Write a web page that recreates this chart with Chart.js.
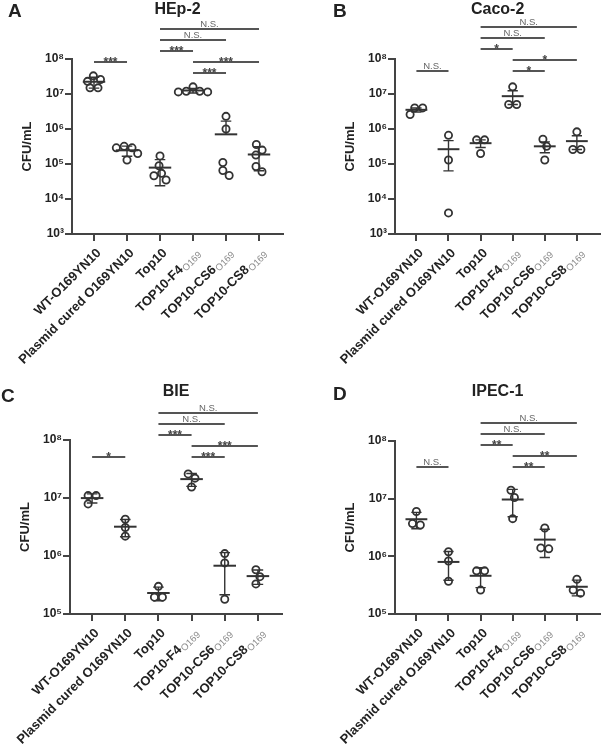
<!DOCTYPE html>
<html><head><meta charset="utf-8">
<script src="https://cdn.jsdelivr.net/npm/chart.js@4"></script>
<style>
html,body{margin:0;padding:0;background:#fff;}
#wrap{position:relative;width:606px;height:749px;overflow:hidden;background:#fff;}
.p{position:absolute;}
canvas{display:block;}
</style></head><body>
<div id="wrap">
<div class="p" style="left:0;top:0"><canvas id="cA" width="303" height="380"></canvas></div>
<div class="p" style="left:303px;top:0"><canvas id="cB" width="303" height="380"></canvas></div>
<div class="p" style="left:0;top:380px"><canvas id="cC" width="303" height="369"></canvas></div>
<div class="p" style="left:303px;top:380px"><canvas id="cD" width="303" height="369"></canvas></div>
</div>
<script>
// ---------- DATA ----------
const categories = ['WT-O169YN10', 'Plasmid cured O169YN10', 'Top10', 'TOP10-F4', 'TOP10-CS6', 'TOP10-CS8'];
const categorySubs = ['', '', '', 'O169', 'O169', 'O169'];
const comparisons = [[0, 1], [2, 5], [2, 4], [2, 3], [3, 5], [3, 4]];

const hep2Values = [
  [3.3e7, 2.6e7, 2.3e7, 1.5e7, 1.5e7],
  [3.2e5, 2.9e5, 2.9e5, 2.0e5, 1.3e5],
  [1.7e5, 8.9e4, 5.4e4, 4.6e4, 3.5e4],
  [1.6e7, 1.2e7, 1.2e7, 1.15e7, 1.15e7],
  [2.3e6, 1.0e6, 1.1e5, 6.5e4, 4.7e4],
  [3.6e5, 2.5e5, 1.8e5, 8.5e4, 6.0e4]
];
const hep2Sig = ['***', 'N.S.', 'N.S.', '***', '***', '***'];

const caco2Values = [
  [4.0e6, 4.0e6, 2.6e6],
  [6.6e5, 1.3e5, 4.0e3],
  [4.9e5, 4.9e5, 2.0e5],
  [1.6e7, 5.0e6, 5.0e6],
  [5.1e5, 3.2e5, 1.3e5],
  [8.3e5, 2.6e5, 2.6e5]
];
const caco2Sig = ['N.S.', 'N.S.', 'N.S.', '*', '*', '*'];

const bieValues = [
  [1.1e7, 1.1e7, 7.9e6],
  [4.3e6, 3.1e6, 2.2e6],
  [3.0e5, 1.95e5, 1.95e5],
  [2.6e7, 2.2e7, 1.55e7],
  [1.1e6, 7.6e5, 1.8e5],
  [5.8e5, 4.4e5, 3.3e5]
];
const bieSig = ['*', 'N.S.', 'N.S.', '***', '***', '***'];

const ipecValues = [
  [6.0e6, 3.7e6, 3.5e6],
  [1.2e6, 8.3e5, 3.7e5],
  [5.6e5, 5.6e5, 2.6e5],
  [1.4e7, 1.05e7, 4.5e6],
  [3.1e6, 1.4e6, 1.35e6],
  [4.0e5, 2.6e5, 2.3e5]
];
const ipecSig = ['N.S.', 'N.S.', 'N.S.', '**', '**', '**'];

const ticksWide = [1e3, 1e4, 1e5, 1e6, 1e7, 1e8];
const ticksNarrow = [1e5, 1e6, 1e7, 1e8];

// ---------- LAYOUT / STYLE ----------
const FONT = '"Liberation Sans", Arial, Helvetica, sans-serif';
const INK = '#222';
const AXIS = '#444';
const BR_STEP = 11;

const panels = [
  { id: 'cA', letter: 'A', title: 'HEp-2', values: hep2Values, sig: hep2Sig, err: 'SD', yTicks: ticksWide,
    W: 303, H: 380, area: { l: 72, r: 283, t: 59, b: 234 }, letterPos: [8, 17], titleY: 14,
    brTop: 29, tiers: [3, 0, 1, 2, 3, 4] },
  { id: 'cB', letter: 'B', title: 'Caco-2', values: caco2Values, sig: caco2Sig, err: 'SEM', yTicks: ticksWide,
    W: 303, H: 380, area: { l: 92, r: 303, t: 59, b: 234 }, letterPos: [30, 17], titleY: 14,
    brTop: 27, tiers: [4, 0, 1, 2, 3, 4] },
  { id: 'cC', letter: 'C', title: 'BIE', values: bieValues, sig: bieSig, err: 'SD', yTicks: ticksNarrow,
    W: 303, H: 369, area: { l: 70, r: 282, t: 60, b: 234 }, letterPos: [1, 22], titleY: 16,
    brTop: 33, tiers: [4, 0, 1, 2, 3, 4] },
  { id: 'cD', letter: 'D', title: 'IPEC-1', values: ipecValues, sig: ipecSig, err: 'SD', yTicks: ticksNarrow,
    W: 303, H: 369, area: { l: 92, r: 302, t: 61, b: 234 }, letterPos: [30, 20], titleY: 16,
    brTop: 43, tiers: [4, 0, 1, 2, 3, 4] }
];

const SUP = { '0': '\u2070', '1': '\u00B9', '2': '\u00B2', '3': '\u00B3', '4': '\u2074', '5': '\u2075', '6': '\u2076', '7': '\u2077', '8': '\u2078', '9': '\u2079' };
function powLabel(v) {
  const e = Math.round(Math.log10(v));
  return '10' + String(e).split('').map(c => SUP[c]).join('');
}

function swarm(pts, d) {
  pts.sort((a, b) => a.y - b.y);
  const placed = [];
  for (const p of pts) {
    const cands = [0];
    for (const q of placed) {
      const dy = Math.abs(p.y - q.y);
      if (dy < d) { const dx = Math.sqrt(d * d - dy * dy); cands.push(q.dx + dx, q.dx - dx); }
    }
    cands.sort((a, b) => (Math.abs(a) - Math.abs(b)) || (b - a));
    let best = cands[cands.length - 1];
    for (const c of cands) {
      if (placed.every(q => Math.hypot(c - q.dx, p.y - q.y) >= d - 0.01)) { best = c; break; }
    }
    p.dx = best;
    placed.push(p);
  }
  const seen = new Set();
  for (const p of placed) {
    if (seen.has(p)) continue;
    const comp = [p]; seen.add(p);
    for (let k = 0; k < comp.length; k++) {
      for (const q of placed) {
        if (!seen.has(q) && Math.hypot(comp[k].dx - q.dx, comp[k].y - q.y) < d * 1.05) { seen.add(q); comp.push(q); }
      }
    }
    const mn = Math.min(...comp.map(c => c.dx)), mx = Math.max(...comp.map(c => c.dx));
    const shift = (mn + mx) / 2;
    comp.forEach(c => { c.dx -= shift; });
  }
  return placed;
}

function makePlugin(panel) {
  return {
    id: 'fig' + panel.id,
    afterDatasetsUpdate(chart) {
      const meta = chart.getDatasetMeta(0);
      const raw = chart.data.datasets[0].data;
      const groups = {};
      meta.data.forEach((el, i) => {
        const g = raw[i].x;
        (groups[g] = groups[g] || []).push({ el, y: el.y });
      });
      Object.values(groups).forEach(pts => {
        swarm(pts, 8).forEach(p => { p.el.x += p.dx; });
      });
    },
    afterDatasetsDraw(chart) {
      const ctx = chart.ctx, xs = chart.scales.x, ys = chart.scales.y;
      ctx.save();
      ctx.strokeStyle = '#333';
      panel.values.forEach((vals, i) => {
        const n = vals.length;
        const mean = vals.reduce((a, b) => a + b, 0) / n;
        const sd = Math.sqrt(vals.reduce((a, v) => a + (v - mean) * (v - mean), 0) / (n - 1));
        const e = panel.err === 'SEM' ? sd / Math.sqrt(n) : sd;
        const cx = xs.getPixelForValue(i);
        const my = ys.getPixelForValue(mean);
        const capL = xs.getPixelForValue(i - 0.16), capR = xs.getPixelForValue(i + 0.16);
        ctx.lineWidth = 1.4;
        ctx.beginPath();
        const yTop = ys.getPixelForValue(mean + e);
        ctx.moveTo(cx, my); ctx.lineTo(cx, yTop);
        ctx.moveTo(capL, yTop); ctx.lineTo(capR, yTop);
        if (mean - e > 0) {
          const yBot = ys.getPixelForValue(Math.max(mean - e, panel.yTicks[0]));
          ctx.moveTo(cx, my); ctx.lineTo(cx, yBot);
          ctx.moveTo(capL, yBot); ctx.lineTo(capR, yBot);
        }
        ctx.stroke();
        ctx.lineWidth = 2;
        ctx.beginPath();
        ctx.moveTo(xs.getPixelForValue(i - 0.34), my);
        ctx.lineTo(xs.getPixelForValue(i + 0.34), my);
        ctx.stroke();
      });
      ctx.restore();
    },
    afterDraw(chart) {
      const ctx = chart.ctx, xs = chart.scales.x, area = chart.chartArea;
      ctx.save();
      ctx.fillStyle = INK;
      ctx.font = 'bold 19px ' + FONT;
      ctx.textAlign = 'left'; ctx.textBaseline = 'alphabetic';
      ctx.fillText(panel.letter, panel.letterPos[0], panel.letterPos[1]);
      ctx.font = 'bold 16px ' + FONT;
      ctx.textAlign = 'center';
      ctx.fillText(panel.title, (area.left + area.right) / 2, panel.titleY);
      comparisons.forEach(([a, b], k) => {
        const y = panel.brTop + panel.tiers[k] * BR_STEP;
        const x1 = xs.getPixelForValue(a), x2 = xs.getPixelForValue(b);
        ctx.strokeStyle = '#555'; ctx.lineWidth = 2;
        ctx.beginPath(); ctx.moveTo(x1, y); ctx.lineTo(x2, y); ctx.stroke();
        const lab = panel.sig[k];
        ctx.textAlign = 'center'; ctx.textBaseline = 'alphabetic';
        if (lab === 'N.S.') {
          ctx.font = '9.5px ' + FONT; ctx.fillStyle = '#666';
          ctx.fillText(lab, (x1 + x2) / 2, y - 2.5);
        } else {
          ctx.font = 'bold 12px ' + FONT; ctx.fillStyle = '#444';
          ctx.fillText(lab, (x1 + x2) / 2, y + 3.5);
        }
      });
      categories.forEach((lab, i) => {
        const px = xs.getPixelForValue(i);
        ctx.save();
        ctx.translate(px + 5, area.bottom + 17);
        ctx.rotate(-Math.PI / 4);
        ctx.textAlign = 'right'; ctx.textBaseline = 'middle';
        let end = 0;
        if (categorySubs[i]) {
          ctx.font = '9.5px ' + FONT; ctx.fillStyle = '#8a8a8a';
          ctx.fillText(categorySubs[i], 0, 3.5);
          end = -ctx.measureText(categorySubs[i]).width - 0.5;
        }
        ctx.font = 'bold 13px ' + FONT; ctx.fillStyle = INK;
        ctx.fillText(lab, end, 0);
        ctx.restore();
      });
      ctx.restore();
    }
  };
}

panels.forEach(panel => {
  const points = panel.values.flatMap((vals, i) => vals.map(v => ({ x: i, y: v })));
  const gridOpts = { display: true, drawOnChartArea: false, drawTicks: true, tickLength: 7,
    color: AXIS, lineWidth: 2, tickColor: AXIS, tickWidth: 2 };
  const borderOpts = { display: true, color: AXIS, width: 2 };
  new Chart(document.getElementById(panel.id), {
    type: 'scatter',
    data: {
      datasets: [{
        data: points,
        pointStyle: 'circle',
        pointRadius: 3.6,
        pointBorderWidth: 1.8,
        pointBorderColor: '#333',
        pointBackgroundColor: 'rgba(0,0,0,0)',
        clip: false
      }]
    },
    options: {
      responsive: false,
      animation: false,
      events: [],
      devicePixelRatio: 1,
      layout: { padding: { top: panel.area.t, right: panel.W - panel.area.r, left: 0, bottom: 0 } },
      plugins: { legend: { display: false }, tooltip: { enabled: false }, title: { display: false } },
      scales: {
        x: {
          type: 'linear', min: -0.667, max: 5.727,
          afterBuildTicks: s => { s.ticks = categories.map((c, i) => ({ value: i })); },
          afterFit: s => { s.height = panel.H - panel.area.b; },
          ticks: { display: false },
          grid: gridOpts, border: borderOpts
        },
        y: {
          type: 'logarithmic', min: panel.yTicks[0], max: panel.yTicks[panel.yTicks.length - 1],
          afterBuildTicks: s => { s.ticks = panel.yTicks.map(v => ({ value: v })); },
          afterFit: s => { s.width = panel.area.l; },
          ticks: { callback: v => powLabel(v), font: { family: FONT, size: 12, weight: 'bold' }, color: INK, padding: 1, autoSkip: false },
          grid: gridOpts, border: borderOpts,
          title: { display: true, text: 'CFU/mL', color: INK, font: { family: FONT, size: 13, weight: 'bold' },
            padding: { top: panel.area.l - 45 - 7.8, bottom: 0 } }
        }
      }
    },
    plugins: [makePlugin(panel)]
  });
});
</script>
</body></html>
